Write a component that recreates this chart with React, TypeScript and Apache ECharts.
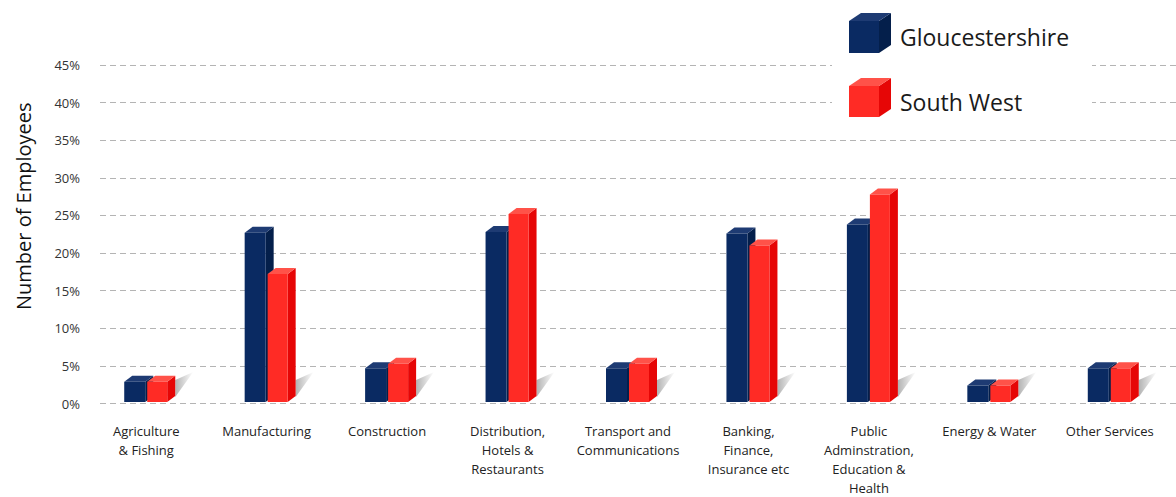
import React, { useEffect, useRef } from "react";
import * as echarts from "echarts";

const categories = [
  "Agriculture\n& Fishing",
  "Manufacturing",
  "Construction",
  "Distribution,\nHotels &\nRestaurants",
  "Transport and\nCommunications",
  "Banking,\nFinance,\nInsurance etc",
  "Public\nAdminstration,\nEducation &\nHealth",
  "Energy & Water",
  "Other Services",
];
const seriesNames = ["Gloucestershire", "South West"];
const gloucestershire = [2.7, 22.6, 4.5, 22.7, 4.5, 22.5, 23.7, 2.2, 4.5];
const southWest = [2.7, 17.1, 5.1, 25.1, 5.1, 20.9, 27.7, 2.2, 4.5];
const yMin = 0;
const yMax = 45;
const yInterval = 5;

const COLORS = [
  { front: "#0a2a62", top: "#1e3b73", side: "#041f4b" },
  { front: "#ff2b25", top: "#ff5249", side: "#e60606" },
];
const FONT = "'Open Sans', 'Noto Sans', sans-serif";
const DX = 8;
const DY = 6;

function makeRender(which: number) {
  return (params: any, api: any) => {
    const i = api.value(0);
    const v = api.value(1);
    const p = api.coord([i, v]);
    const b = api.coord([i, 0]);
    const cx = p[0];
    const w = which === 0 ? 21 : 20;
    const x0 = which === 0 ? cx - 22 : cx + 1;
    const x1 = x0 + w;
    const yt = p[1];
    const yb = b[1];
    const c = COLORS[which];
    const children: any[] = [];
    if (which === 1) {
      const xs = x1 + DX;
      const ys = yb - DY;
      const h = Math.min(16, yb - yt);
      children.push({
        type: "polygon",
        shape: { points: [[xs, ys + 1], [xs, ys - h], [xs + 18, ys - h - 8]] },
        style: {
          fill: new echarts.graphic.LinearGradient(0, 0, 1, 0, [
            { offset: 0, color: "rgba(0,0,0,0.30)" },
            { offset: 1, color: "rgba(0,0,0,0)" },
          ]),
        },
        silent: true,
      });
    }
    children.push({
      type: "polygon",
      shape: { points: [[x1, yt], [x1 + DX, yt - DY], [x1 + DX, yb - DY], [x1, yb]] },
      style: { fill: c.side },
    });
    children.push({
      type: "polygon",
      shape: { points: [[x0, yt], [x1, yt], [x1 + DX, yt - DY], [x0 + DX, yt - DY]] },
      style: { fill: c.top },
    });
    children.push({
      type: "rect",
      shape: { x: x0, y: yt, width: w, height: yb - yt },
      style: { fill: c.front },
    });
    return { type: "group", children };
  };
}

function legendCube(x: number, y: number, w: number, h: number, c: any) {
  const dx = 12;
  const dy = 8;
  return [
    {
      type: "polygon",
      shape: { points: [[x + w, y], [x + w + dx, y - dy], [x + w + dx, y + h - dy], [x + w, y + h]] },
      style: { fill: c.side },
      z: 101,
    },
    {
      type: "polygon",
      shape: { points: [[x, y], [x + w, y], [x + w + dx, y - dy], [x + dx, y - dy]] },
      style: { fill: c.top },
      z: 101,
    },
    { type: "rect", shape: { x, y, width: w, height: h }, style: { fill: c.front }, z: 101 },
  ];
}

export default function App() {
  const ref = useRef<HTMLDivElement>(null);
  useEffect(() => {
    if (!ref.current) return;
    const chart = echarts.init(ref.current, null, { renderer: "svg" });
    const top = 65;
    const bottom = 93.5;
    chart.setOption({
      animation: false,
      backgroundColor: "#ffffff",
      textStyle: { fontFamily: FONT },
      grid: [
        { left: 100, right: 0, top, bottom },
        { left: 86, right: 6, top, bottom },
      ],
      xAxis: [
        { type: "category", gridIndex: 0, data: categories, show: false },
        {
          type: "category",
          gridIndex: 1,
          data: categories,
          axisLine: { show: false },
          axisTick: { show: false },
          axisLabel: {
            interval: 0,
            fontSize: 13,
            lineHeight: 19,
            color: "#222",
            margin: 19,
            fontFamily: FONT,
          },
        },
      ],
      yAxis: [
        {
          type: "value",
          gridIndex: 0,
          min: yMin,
          max: yMax,
          interval: yInterval,
          axisLine: { show: false },
          axisTick: { show: false },
          axisLabel: { formatter: "{value}%", fontSize: 13, color: "#333", margin: 20, fontFamily: FONT },
          splitLine: { lineStyle: { type: [6, 4], color: "#b4b4b4", width: 1 } },
          name: "Number of Employees",
          nameLocation: "middle",
          nameGap: 67,
          nameTextStyle: { fontSize: 20, color: "#111", fontFamily: FONT, padding: [0, 0, 0, 56] },
        },
        { type: "value", gridIndex: 1, min: yMin, max: yMax, interval: yInterval, show: false, splitLine: { show: false } },
      ],
      series: [
        {
          name: seriesNames[0],
          type: "custom",
          xAxisIndex: 1,
          yAxisIndex: 1,
          renderItem: makeRender(0),
          data: gloucestershire.map((v, i) => [i, v]),
          z: 3,
        },
        {
          name: seriesNames[1],
          type: "custom",
          xAxisIndex: 1,
          yAxisIndex: 1,
          renderItem: makeRender(1),
          data: southWest.map((v, i) => [i, v]),
          z: 4,
        },
      ],
      graphic: [
        { type: "rect", shape: { x: 832, y: 0, width: 260, height: 122 }, style: { fill: "#ffffff" }, z: 100 },
        ...legendCube(849, 21, 30, 32, COLORS[0]),
        ...legendCube(849, 86, 30, 31, COLORS[1]),
        {
          type: "text",
          x: 900,
          y: 37,
          z: 101,
          style: { text: seriesNames[0], fontSize: 23, fill: "#1a1a1a", fontFamily: FONT, textVerticalAlign: "middle" },
        },
        {
          type: "text",
          x: 900,
          y: 102,
          z: 101,
          style: { text: seriesNames[1], fontSize: 23, fill: "#1a1a1a", fontFamily: FONT, textVerticalAlign: "middle" },
        },
      ],
    });
    return () => chart.dispose();
  }, []);
  return (
    <div
      ref={ref}
      style={{ position: "fixed", left: 0, top: 0, width: 1176, height: 497, background: "#fff" }}
    />
  );
}
